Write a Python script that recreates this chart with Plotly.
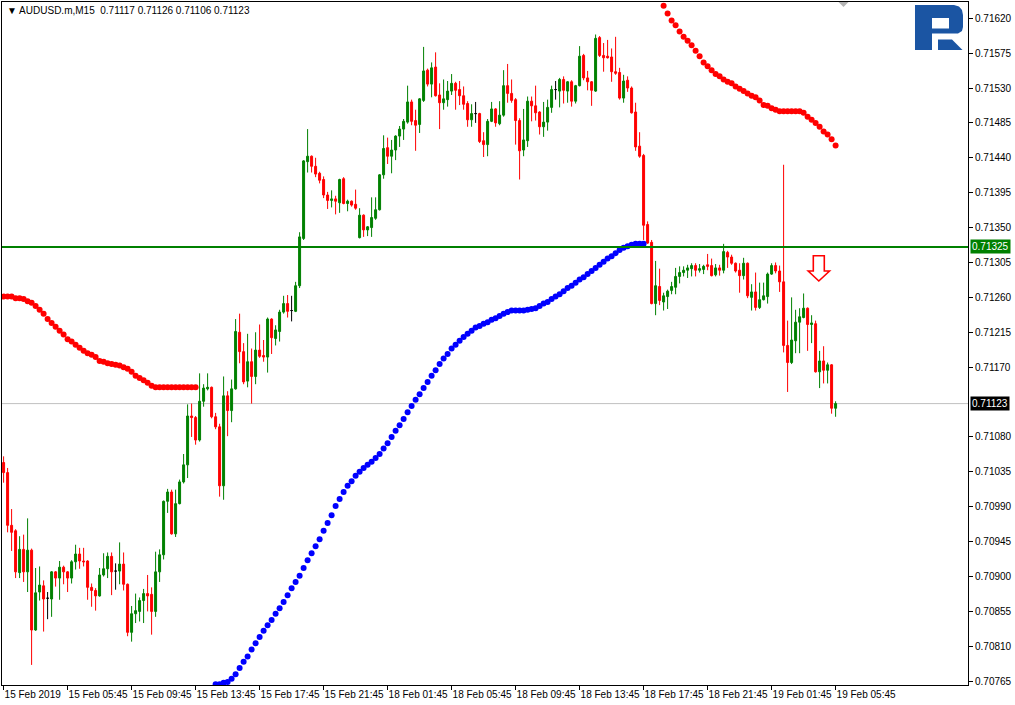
import plotly.graph_objects as go

# ---------------- data ----------------
chart_title = "\u25bc AUDUSD.m,M15\u00a0\u00a00.71117 0.71126 0.71106 0.71123"

opens = [
    0.71047,0.71034,0.70966,0.70959,0.70905,0.70935,0.70906,0.70934,0.70831,0.70880,
    0.70888,0.70872,0.70871,0.70906,0.70898,0.70912,0.70906,0.70898,0.70919,0.70929,
    0.70920,0.70920,0.70886,0.70882,0.70875,0.70902,0.70910,0.70926,0.70907,0.70907,
    0.70916,0.70890,0.70828,0.70852,0.70855,0.70869,0.70878,0.70877,0.70855,0.70906,
    0.70928,0.70997,0.71009,0.70955,0.70994,0.71022,0.71044,0.71107,0.71105,0.71076,
    0.71126,0.71142,0.71144,0.71106,0.71093,0.71017,0.71133,0.71114,0.71142,0.71215,
    0.71190,0.71152,0.71177,0.71158,0.71192,0.71185,0.71183,0.71232,0.71207,0.71216,
    0.71241,0.71252,0.71243,0.71242,0.71275,0.71336,0.71435,0.71442,0.71429,0.71420,
    0.71412,0.71392,0.71385,0.71387,0.71382,0.71413,0.71381,0.71384,0.71380,0.71337,
    0.71366,0.71347,0.71350,0.71362,0.71373,0.71418,0.71453,0.71442,0.71450,0.71468,
    0.71477,0.71486,0.71512,0.71488,0.71483,0.71514,0.71553,0.71535,0.71557,0.71521,
    0.71511,0.71515,0.71526,0.71536,0.71528,0.71520,0.71510,0.71489,0.71497,0.71497,
    0.71462,0.71457,0.71487,0.71503,0.71484,0.71495,0.71533,0.71523,0.71515,0.71488,
    0.71450,0.71462,0.71513,0.71507,0.71499,0.71480,0.71486,0.71505,0.71528,0.71526,
    0.71541,0.71526,0.71538,0.71513,0.71533,0.71572,0.71543,0.71538,0.71526,0.71595,
    0.71572,0.71571,0.71570,0.71551,0.71550,0.71517,0.71540,0.71530,0.71499,0.71455,
    0.71443,0.71354,0.71331,0.71252,0.71274,0.71254,0.71261,0.71269,0.71273,0.71287,
    0.71292,0.71295,0.71297,0.71301,0.71295,0.71296,0.71302,0.71301,0.71289,0.71298,
    0.71295,0.71318,0.71312,0.71304,0.71295,0.71288,0.71304,0.71260,0.71267,0.71247,
    0.71257,0.71261,0.71290,0.71301,0.71294,0.71280,0.71198,0.71176,0.71204,0.71228,
    0.71234,0.71246,0.71225,0.71226,0.71164,0.71178,0.71166,0.71173,0.71117,
]
highs = [
    0.71055,0.71040,0.70987,0.70961,0.70952,0.70954,0.70975,0.70936,0.70911,0.70913,
    0.70895,0.70880,0.70907,0.70907,0.70920,0.70914,0.70907,0.70921,0.70941,0.70937,
    0.70937,0.70921,0.70891,0.70885,0.70911,0.70930,0.70931,0.70931,0.70917,0.70944,
    0.70931,0.70891,0.70862,0.70878,0.70873,0.70884,0.70902,0.70886,0.70932,0.70935,
    0.70998,0.71013,0.71012,0.71012,0.71025,0.71058,0.71122,0.71123,0.71107,0.71162,
    0.71148,0.71162,0.71145,0.71111,0.71097,0.71158,0.71139,0.71154,0.71232,0.71239,
    0.71201,0.71213,0.71194,0.71215,0.71225,0.71205,0.71234,0.71233,0.71224,0.71244,
    0.71262,0.71263,0.71262,0.71280,0.71344,0.71437,0.71477,0.71443,0.71440,0.71422,
    0.71416,0.71396,0.71398,0.71391,0.71413,0.71415,0.71386,0.71385,0.71399,0.71375,
    0.71367,0.71352,0.71389,0.71389,0.71419,0.71469,0.71466,0.71463,0.71469,0.71481,
    0.71490,0.71533,0.71515,0.71502,0.71517,0.71583,0.71555,0.71563,0.71576,0.71536,
    0.71541,0.71539,0.71548,0.71538,0.71539,0.71532,0.71513,0.71509,0.71512,0.71498,
    0.71473,0.71490,0.71512,0.71504,0.71513,0.71553,0.71561,0.71541,0.71517,0.71491,
    0.71503,0.71519,0.71519,0.71533,0.71500,0.71512,0.71515,0.71533,0.71539,0.71543,
    0.71545,0.71539,0.71540,0.71534,0.71584,0.71574,0.71552,0.71539,0.71599,0.71597,
    0.71588,0.71592,0.71581,0.71596,0.71556,0.71547,0.71545,0.71532,0.71511,0.71473,
    0.71445,0.71358,0.71334,0.71307,0.71297,0.71266,0.71270,0.71280,0.71298,0.71300,
    0.71300,0.71302,0.71304,0.71304,0.71303,0.71302,0.71316,0.71310,0.71303,0.71302,
    0.71329,0.71320,0.71315,0.71305,0.71304,0.71311,0.71305,0.71277,0.71292,0.71279,
    0.71279,0.71292,0.71304,0.71305,0.71301,0.71431,0.71230,0.71260,0.71244,0.71246,
    0.71265,0.71247,0.71237,0.71230,0.71191,0.71197,0.71176,0.71174,0.71126,
]
lows = [
    0.71021,0.70957,0.70933,0.70898,0.70898,0.70893,0.70880,0.70786,0.70830,0.70869,
    0.70829,0.70845,0.70848,0.70887,0.70870,0.70890,0.70880,0.70891,0.70909,0.70910,
    0.70913,0.70870,0.70861,0.70856,0.70874,0.70900,0.70898,0.70876,0.70883,0.70890,
    0.70882,0.70823,0.70816,0.70840,0.70842,0.70840,0.70855,0.70825,0.70848,0.70893,
    0.70922,0.70982,0.70954,0.70951,0.70993,0.71020,0.71027,0.71080,0.71070,0.71074,
    0.71119,0.71140,0.71104,0.71090,0.71003,0.70999,0.71081,0.71099,0.71141,0.71175,
    0.71148,0.71144,0.71123,0.71148,0.71182,0.71177,0.71163,0.71187,0.71198,0.71203,
    0.71239,0.71234,0.71229,0.71241,0.71272,0.71334,0.71421,0.71421,0.71415,0.71407,
    0.71388,0.71374,0.71376,0.71367,0.71369,0.71380,0.71371,0.71377,0.71373,0.71336,
    0.71338,0.71339,0.71338,0.71360,0.71372,0.71413,0.71432,0.71420,0.71437,0.71454,
    0.71463,0.71484,0.71482,0.71449,0.71472,0.71512,0.71532,0.71518,0.71519,0.71477,
    0.71502,0.71506,0.71521,0.71502,0.71508,0.71502,0.71480,0.71480,0.71485,0.71459,
    0.71441,0.71442,0.71486,0.71480,0.71482,0.71493,0.71511,0.71511,0.71457,0.71412,
    0.71442,0.71454,0.71487,0.71488,0.71470,0.71467,0.71475,0.71498,0.71515,0.71505,
    0.71510,0.71511,0.71506,0.71510,0.71532,0.71540,0.71527,0.71507,0.71525,0.71570,
    0.71551,0.71568,0.71538,0.71547,0.71515,0.71511,0.71525,0.71497,0.71449,0.71440,
    0.71334,0.71329,0.71251,0.71237,0.71250,0.71243,0.71245,0.71264,0.71264,0.71278,
    0.71287,0.71285,0.71287,0.71287,0.71292,0.71290,0.71295,0.71287,0.71287,0.71288,
    0.71291,0.71298,0.71302,0.71292,0.71266,0.71283,0.71259,0.71243,0.71243,0.71245,
    0.71256,0.71252,0.71289,0.71291,0.71267,0.71189,0.71138,0.71174,0.71188,0.71188,
    0.71233,0.71191,0.71201,0.71163,0.71143,0.71149,0.71149,0.71110,0.71106,
]
closes = [
    0.71034,0.70966,0.70957,0.70906,0.70935,0.70906,0.70934,0.70831,0.70879,0.70889,
    0.70871,0.70872,0.70906,0.70898,0.70912,0.70906,0.70898,0.70919,0.70929,0.70920,
    0.70919,0.70886,0.70882,0.70875,0.70902,0.70910,0.70926,0.70906,0.70907,0.70916,
    0.70890,0.70828,0.70852,0.70856,0.70869,0.70878,0.70875,0.70855,0.70906,0.70928,
    0.70997,0.71009,0.70955,0.70994,0.71022,0.71044,0.71107,0.71105,0.71076,0.71126,
    0.71143,0.71144,0.71106,0.71093,0.71017,0.71133,0.71114,0.71142,0.71216,0.71190,
    0.71151,0.71177,0.71158,0.71192,0.71184,0.71183,0.71232,0.71208,0.71218,0.71241,
    0.71252,0.71242,0.71243,0.71275,0.71338,0.71436,0.71442,0.71429,0.71419,0.71411,
    0.71392,0.71385,0.71387,0.71384,0.71412,0.71381,0.71384,0.71379,0.71375,0.71366,
    0.71347,0.71351,0.71363,0.71373,0.71418,0.71452,0.71442,0.71450,0.71468,0.71477,
    0.71487,0.71512,0.71487,0.71482,0.71516,0.71552,0.71535,0.71556,0.71520,0.71511,
    0.71516,0.71526,0.71536,0.71527,0.71520,0.71509,0.71489,0.71497,0.71497,0.71461,
    0.71457,0.71487,0.71503,0.71485,0.71495,0.71533,0.71523,0.71514,0.71488,0.71449,
    0.71463,0.71513,0.71507,0.71498,0.71480,0.71486,0.71505,0.71528,0.71528,0.71541,
    0.71527,0.71538,0.71513,0.71533,0.71571,0.71543,0.71538,0.71527,0.71594,0.71572,
    0.71569,0.71569,0.71551,0.71549,0.71517,0.71539,0.71530,0.71498,0.71454,0.71442,
    0.71353,0.71330,0.71252,0.71275,0.71256,0.71262,0.71268,0.71274,0.71287,0.71292,
    0.71295,0.71298,0.71301,0.71295,0.71297,0.71300,0.71300,0.71288,0.71298,0.71295,
    0.71319,0.71312,0.71304,0.71294,0.71288,0.71304,0.71262,0.71267,0.71247,0.71257,
    0.71262,0.71290,0.71301,0.71294,0.71280,0.71198,0.71176,0.71205,0.71228,0.71235,
    0.71246,0.71225,0.71227,0.71164,0.71178,0.71166,0.71173,0.71117,0.71123,
]

tick_labels = [
    "15 Feb 2019", "15 Feb 05:45", "15 Feb 09:45", "15 Feb 13:45", "15 Feb 17:45",
    "15 Feb 21:45", "18 Feb 01:45", "18 Feb 05:45", "18 Feb 09:45", "18 Feb 13:45",
    "18 Feb 17:45", "18 Feb 21:45", "19 Feb 01:45", "19 Feb 05:45",
]
bars_per_label = 16

# price scale labels (0.71125 is hidden behind the bid label in the reference)
price_ticks = [
    0.70765, 0.70810, 0.70855, 0.70900, 0.70945, 0.70990, 0.71035, 0.71080,
    0.71170, 0.71215, 0.71260, 0.71305, 0.71350, 0.71395, 0.71440, 0.71485,
    0.71530, 0.71575, 0.71620,
]

# dotted trailing indicator (three visible segments)
dots_red_left_start = 0
dots_red_left = [
    0.71261,0.71261,0.71261,0.71259,0.71259,0.71258,0.71255,0.71253,0.71249,0.71244,
    0.71239,0.71232,0.71227,0.71222,0.71217,0.71212,0.71206,0.71203,0.71199,0.71195,
    0.71191,0.71188,0.71186,0.71183,0.71178,0.71177,0.71175,0.71174,0.71173,0.71172,
    0.71170,0.71168,0.71164,0.71159,0.71156,0.71153,0.71150,0.71146,0.71144,0.71144,
    0.71144,0.71144,0.71144,0.71144,0.71144,0.71144,0.71144,0.71144,0.71144,
]
dots_blue_start = 53
dots_blue = [
    0.70761,0.70761,0.70763,0.70764,0.70768,0.70774,0.70782,0.70790,0.70797,0.70806,
    0.70814,0.70822,0.70830,0.70837,0.70844,0.70852,0.70859,0.70867,0.70876,0.70885,
    0.70893,0.70901,0.70911,0.70921,0.70930,0.70939,0.70948,0.70959,0.70969,0.70979,
    0.70991,0.71000,0.71009,0.71017,0.71023,0.71030,0.71035,0.71040,0.71044,0.71048,
    0.71053,0.71058,0.71065,0.71072,0.71080,0.71088,0.71095,0.71103,0.71112,0.71120,
    0.71128,0.71135,0.71143,0.71151,0.71159,0.71166,0.71174,0.71181,0.71187,0.71194,
    0.71199,0.71204,0.71209,0.71213,0.71217,0.71221,0.71223,0.71226,0.71228,0.71231,
    0.71233,0.71236,0.71239,0.71241,0.71243,0.71243,0.71243,0.71243,0.71244,0.71245,
    0.71246,0.71249,0.71252,0.71254,0.71258,0.71261,0.71264,0.71268,0.71272,0.71275,
    0.71279,0.71283,0.71286,0.71290,0.71294,0.71298,0.71302,0.71306,0.71310,0.71313,
    0.71317,0.71321,0.71324,0.71326,0.71328,0.71329,0.71329,0.71329,
]
dots_red_top_start = 165
dots_red_top = [
    0.71636,0.71626,0.71617,0.71611,0.71603,0.71596,0.71591,0.71585,0.71578,0.71571,
    0.71563,0.71558,0.71553,0.71548,0.71545,0.71541,0.71538,0.71536,0.71532,0.71529,
    0.71526,0.71523,0.71520,0.71518,0.71514,0.71508,0.71507,0.71504,0.71502,0.71500,
    0.71500,0.71500,0.71500,0.71500,0.71500,0.71498,0.71493,0.71489,0.71485,0.71480,
    0.71474,0.71470,0.71464,0.71456,
]

level_line = 0.71325
bid_line = 0.71123

# ---------------- figure ----------------
FONT = "Liberation Sans, Arial, sans-serif"
GREEN = "#008000"
RED = "#ff0000"

bars = list(range(len(opens)))
norm = [i for i in bars if opens[i] != closes[i]]
doji = [i for i in bars if opens[i] == closes[i]]

fig = go.Figure()
fig.add_trace(go.Candlestick(
    x=norm,
    open=[opens[i] for i in norm], high=[highs[i] for i in norm],
    low=[lows[i] for i in norm], close=[closes[i] for i in norm],
    increasing=dict(line=dict(color=GREEN, width=1), fillcolor=GREEN),
    decreasing=dict(line=dict(color=RED, width=1), fillcolor=RED),
    whiskerwidth=0, hoverinfo="skip", showlegend=False,
))
fig.add_trace(go.Candlestick(
    x=doji,
    open=[opens[i] for i in doji], high=[highs[i] for i in doji],
    low=[lows[i] for i in doji], close=[closes[i] for i in doji],
    increasing=dict(line=dict(color="black", width=1), fillcolor="black"),
    decreasing=dict(line=dict(color="black", width=1), fillcolor="black"),
    whiskerwidth=0, hoverinfo="skip", showlegend=False,
))

for start, vals, col in [
    (dots_red_left_start, dots_red_left, RED),
    (dots_blue_start, dots_blue, "#0000ff"),
    (dots_red_top_start, dots_red_top, RED),
]:
    fig.add_trace(go.Scatter(
        x=list(range(start, start + len(vals))), y=vals, mode="markers",
        marker=dict(color=col, size=6, line=dict(width=0)),
        hoverinfo="skip", showlegend=False, cliponaxis=True,
    ))

# pixel -> paper helpers for decorative items
PL, PR, PT, PB = 2, 968, 2, 685
def fx(p):
    return (p - PL) / (PR - PL)
def fy(p):
    return (PB - p) / (PB - PT)
def path(points):
    return "M " + " L ".join(f"{fx(a):.5f},{fy(b):.5f}" for a, b in points) + " Z"

shapes = [
    dict(type="line", xref="paper", x0=0, x1=1, yref="y", y0=bid_line, y1=bid_line,
         line=dict(color="#c0c0c0", width=1), layer="below"),
    dict(type="line", xref="paper", x0=0, x1=1, yref="y", y0=level_line, y1=level_line,
         line=dict(color=GREEN, width=2), layer="above"),
    # down arrow
    dict(type="path", xref="paper", yref="paper",
         path=path([(813.3, 255.7), (824.3, 255.7), (824.3, 271), (829.5, 271),
                    (818.8, 281), (808.2, 271), (813.3, 271)]),
         line=dict(color=RED, width=1.6), fillcolor="#ffffff"),
    # chart shift marker
    dict(type="path", xref="paper", yref="paper",
         path=path([(838.5, 2), (848.5, 2), (843.5, 7)]),
         line=dict(width=0), fillcolor="#b4b4b4"),
    # logo
    dict(type="path", xref="paper", yref="paper",
         path=path([(915, 5), (954, 5), (959, 6.5), (962, 10), (963, 15), (963, 27),
                    (962, 31), (958, 33.5), (932, 33.5), (932, 50), (915, 50)]),
         line=dict(width=0), fillcolor="#1b55a3"),
    dict(type="path", xref="paper", yref="paper",
         path=path([(932, 18), (949, 18), (949, 28.5), (932, 28.5)]),
         line=dict(width=0), fillcolor="#ffffff"),
    dict(type="path", xref="paper", yref="paper",
         path=path([(938, 39.5), (952, 39.5), (962.5, 50), (938, 50)]),
         line=dict(width=0), fillcolor="#1b55a3"),
]

annotations = [
    dict(xref="paper", yref="paper", x=fx(5), y=fy(3), xanchor="left", yanchor="top",
         text=chart_title, showarrow=False, font=dict(family=FONT, size=10, color="black")),
    dict(xref="paper", yref="y", x=1, y=level_line, xanchor="left", xshift=2,
         text=f"{level_line:.5f}", showarrow=False, bgcolor=GREEN, borderpad=1,
         font=dict(family=FONT, size=10, color="white")),
    dict(xref="paper", yref="y", x=1, y=bid_line, xanchor="left", xshift=2,
         text=f"{bid_line:.5f}", showarrow=False, bgcolor="black", borderpad=1,
         font=dict(family=FONT, size=10, color="white")),
]

# axis ranges chosen so one bar = 4 px and 0.00045 = 34.9 px
fig.update_layout(
    width=1015, height=705,
    margin=dict(l=PL, r=1015 - PR, t=PT, b=705 - PB, autoexpand=False),
    paper_bgcolor="white", plot_bgcolor="white",
    showlegend=False, boxmode="overlay",
    shapes=shapes, annotations=annotations,
    xaxis=dict(
        range=[-0.4, 241.1], showgrid=False, zeroline=False, automargin=False,
        showline=True, linecolor="black", linewidth=1, mirror=True,
        ticks="outside", ticklen=4, tickcolor="black", tickangle=0,
        tickvals=[k * bars_per_label for k in range(len(tick_labels))],
        ticktext=tick_labels, ticklabelposition="outside right",
        tickfont=dict(family=FONT, size=10, color="black"),
        rangeslider=dict(visible=False), fixedrange=True,
    ),
    yaxis=dict(
        side="right", range=[0.707601, 0.716409], showgrid=False, zeroline=False,
        automargin=False,
        showline=True, linecolor="black", linewidth=1, mirror=True,
        tickvals=price_ticks, tickformat=".5f",
        ticks="outside", ticklen=4, tickcolor="black",
        tickfont=dict(family=FONT, size=10, color="black"), fixedrange=True,
    ),
)

fig.write_html(
    "out.html",
    config={"displayModeBar": False},
    post_script="document.body.style.margin='0px'; document.body.style.overflow='hidden';",
)
